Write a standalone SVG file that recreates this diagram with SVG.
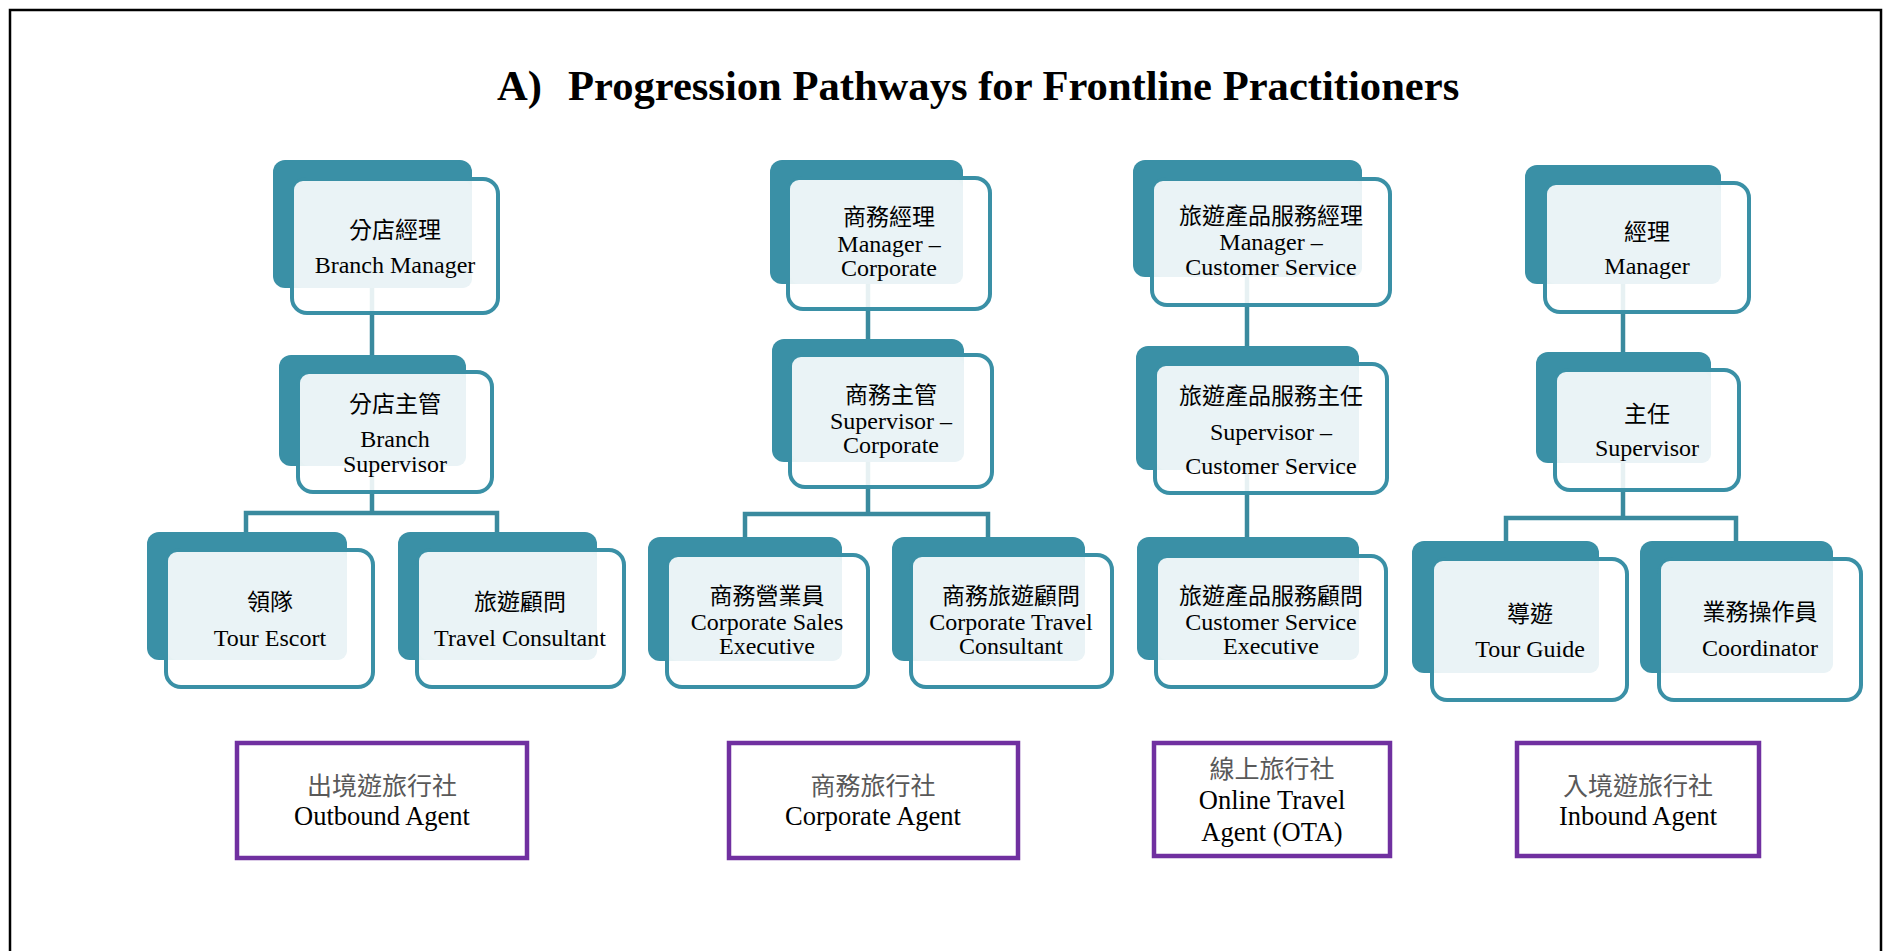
<svg xmlns="http://www.w3.org/2000/svg" width="1886" height="951" viewBox="0 0 1886 951">
<style>
.back{fill:#3A90A6}
.front{fill:#ffffff;fill-opacity:0.88;stroke:#3A90A6;stroke-width:4}
.lite{fill:#EAF3F6}
.conn{fill:none;stroke:#3A8A9E;stroke-width:4.5}
.agent{fill:#ffffff;stroke:#7030A0;stroke-width:4.5}
.en{font-family:"Liberation Serif","Times New Roman",serif;font-size:24px;fill:#000;text-anchor:middle}
.zh{font-family:"Noto Sans CJK TC","Noto Sans CJK SC",sans-serif;font-size:23px;fill:#000;text-anchor:middle}
.aen{font-family:"Liberation Serif","Times New Roman",serif;font-size:26.5px;fill:#000;text-anchor:middle}
.azh{font-family:"Noto Sans CJK TC","Noto Sans CJK SC",sans-serif;font-size:25px;fill:#595959;text-anchor:middle}
.title{font-family:"Liberation Serif","Times New Roman",serif;font-size:42.6px;font-weight:bold;fill:#000}
</style>
<rect width="1886" height="951" fill="#ffffff"/>
<path d="M10,951 V10 H1881 V951" fill="none" stroke="#000" stroke-width="2.5"/>
<g id="title">
<text class="title" x="497" y="100">A)</text>
<text class="title" x="568" y="100">Progression Pathways for Frontline Practitioners</text>
</g>
<g id="connectors">
<path class="conn" d="M372,288 V355"/>
<path class="conn" d="M372,466 V513 M246,532 V513 H497 V532"/>
<path class="conn" d="M868,284 V339"/>
<path class="conn" d="M868,462 V514 M745,537 V514 H988 V537"/>
<path class="conn" d="M1247,277 V346"/>
<path class="conn" d="M1247,470 V537"/>
<path class="conn" d="M1623,284 V352"/>
<path class="conn" d="M1623,463 V518 M1506,541 V518 H1736 V541"/>
</g>
<g id="branch-manager">
<rect class="back" x="273" y="160" width="199" height="128" rx="12"/>
<rect class="front" x="292" y="179" width="206" height="134" rx="15"/>
<rect class="lite" x="294" y="181" width="178" height="107" rx="9"/>
<text class="zh" x="395" y="238">分店經理</text>
<text class="en" x="395" y="273">Branch Manager</text>
</g>
<g id="branch-supervisor">
<rect class="back" x="279" y="355" width="187" height="111" rx="12"/>
<rect class="front" x="298" y="372" width="194" height="120" rx="15"/>
<rect class="lite" x="300" y="374" width="166" height="92" rx="9"/>
<text class="zh" x="395" y="412">分店主管</text>
<text class="en" x="395" y="447">Branch</text>
<text class="en" x="395" y="472">Supervisor</text>
</g>
<g id="tour-escort">
<rect class="back" x="147" y="532" width="200" height="128" rx="12"/>
<rect class="front" x="166" y="550" width="207" height="137" rx="15"/>
<rect class="lite" x="168" y="552" width="179" height="108" rx="9"/>
<text class="zh" x="270" y="610">領隊</text>
<text class="en" x="270" y="646">Tour Escort</text>
</g>
<g id="travel-consultant">
<rect class="back" x="398" y="532" width="199" height="128" rx="12"/>
<rect class="front" x="417" y="550" width="207" height="137" rx="15"/>
<rect class="lite" x="419" y="552" width="178" height="108" rx="9"/>
<text class="zh" x="520" y="610">旅遊顧問</text>
<text class="en" x="520" y="646">Travel Consultant</text>
</g>
<g id="manager-corporate">
<rect class="back" x="770" y="160" width="193" height="124" rx="12"/>
<rect class="front" x="788" y="178" width="202" height="131" rx="15"/>
<rect class="lite" x="790" y="180" width="173" height="104" rx="9"/>
<text class="zh" x="889" y="225">商務經理</text>
<text class="en" x="889" y="252">Manager –</text>
<text class="en" x="889" y="276">Corporate</text>
</g>
<g id="supervisor-corporate">
<rect class="back" x="772" y="339" width="192" height="123" rx="12"/>
<rect class="front" x="790" y="355" width="202" height="132" rx="15"/>
<rect class="lite" x="792" y="357" width="172" height="105" rx="9"/>
<text class="zh" x="891" y="403">商務主管</text>
<text class="en" x="891" y="429">Supervisor –</text>
<text class="en" x="891" y="453">Corporate</text>
</g>
<g id="corporate-sales-executive">
<rect class="back" x="648" y="537" width="194" height="124" rx="12"/>
<rect class="front" x="667" y="555" width="201" height="132" rx="15"/>
<rect class="lite" x="669" y="557" width="173" height="104" rx="9"/>
<text class="zh" x="767" y="604">商務營業員</text>
<text class="en" x="767" y="630">Corporate Sales</text>
<text class="en" x="767" y="654">Executive</text>
</g>
<g id="corporate-travel-consultant">
<rect class="back" x="892" y="537" width="193" height="124" rx="12"/>
<rect class="front" x="911" y="555" width="201" height="132" rx="15"/>
<rect class="lite" x="913" y="557" width="172" height="104" rx="9"/>
<text class="zh" x="1011" y="604">商務旅遊顧問</text>
<text class="en" x="1011" y="630">Corporate Travel</text>
<text class="en" x="1011" y="654">Consultant</text>
</g>
<g id="manager-customer-service">
<rect class="back" x="1133" y="160" width="229" height="117" rx="12"/>
<rect class="front" x="1152" y="179" width="238" height="126" rx="15"/>
<rect class="lite" x="1154" y="181" width="208" height="96" rx="9"/>
<text class="zh" x="1271" y="224">旅遊產品服務經理</text>
<text class="en" x="1271" y="250">Manager –</text>
<text class="en" x="1271" y="275">Customer Service</text>
</g>
<g id="supervisor-customer-service">
<rect class="back" x="1136" y="346" width="223" height="124" rx="12"/>
<rect class="front" x="1155" y="364" width="232" height="129" rx="15"/>
<rect class="lite" x="1157" y="366" width="202" height="104" rx="9"/>
<text class="zh" x="1271" y="404">旅遊產品服務主任</text>
<text class="en" x="1271" y="440">Supervisor –</text>
<text class="en" x="1271" y="474">Customer Service</text>
</g>
<g id="customer-service-executive">
<rect class="back" x="1137" y="537" width="222" height="123" rx="12"/>
<rect class="front" x="1156" y="556" width="230" height="131" rx="15"/>
<rect class="lite" x="1158" y="558" width="201" height="102" rx="9"/>
<text class="zh" x="1271" y="604">旅遊產品服務顧問</text>
<text class="en" x="1271" y="630">Customer Service</text>
<text class="en" x="1271" y="654">Executive</text>
</g>
<g id="manager">
<rect class="back" x="1525" y="165" width="196" height="119" rx="12"/>
<rect class="front" x="1545" y="183" width="204" height="129" rx="15"/>
<rect class="lite" x="1547" y="185" width="174" height="99" rx="9"/>
<text class="zh" x="1647" y="240">經理</text>
<text class="en" x="1647" y="274">Manager</text>
</g>
<g id="supervisor">
<rect class="back" x="1536" y="352" width="175" height="111" rx="12"/>
<rect class="front" x="1555" y="370" width="184" height="120" rx="15"/>
<rect class="lite" x="1557" y="372" width="154" height="91" rx="9"/>
<text class="zh" x="1647" y="422">主任</text>
<text class="en" x="1647" y="456">Supervisor</text>
</g>
<g id="tour-guide">
<rect class="back" x="1412" y="541" width="187" height="132" rx="12"/>
<rect class="front" x="1432" y="559" width="195" height="141" rx="15"/>
<rect class="lite" x="1434" y="561" width="165" height="112" rx="9"/>
<text class="zh" x="1530" y="622">導遊</text>
<text class="en" x="1530" y="657">Tour Guide</text>
</g>
<g id="coordinator">
<rect class="back" x="1640" y="541" width="193" height="132" rx="12"/>
<rect class="front" x="1659" y="559" width="202" height="141" rx="15"/>
<rect class="lite" x="1661" y="561" width="172" height="112" rx="9"/>
<text class="zh" x="1760" y="620">業務操作員</text>
<text class="en" x="1760" y="656">Coordinator</text>
</g>
<g id="outbound-agent">
<rect class="agent" x="237" y="743" width="290" height="115"/>
<text class="azh" x="382" y="795">出境遊旅行社</text>
<text class="aen" x="382" y="825">Outbound Agent</text>
</g>
<g id="corporate-agent">
<rect class="agent" x="729" y="743" width="289" height="115"/>
<text class="azh" x="873" y="795">商務旅行社</text>
<text class="aen" x="873" y="825">Corporate Agent</text>
</g>
<g id="online-travel-agent">
<rect class="agent" x="1154" y="743" width="236" height="113"/>
<text class="azh" x="1272" y="778">線上旅行社</text>
<text class="aen" x="1272" y="809">Online Travel</text>
<text class="aen" x="1272" y="841">Agent (OTA)</text>
</g>
<g id="inbound-agent">
<rect class="agent" x="1517" y="743" width="242" height="113"/>
<text class="azh" x="1638" y="795">入境遊旅行社</text>
<text class="aen" x="1638" y="825">Inbound Agent</text>
</g>
</svg>
